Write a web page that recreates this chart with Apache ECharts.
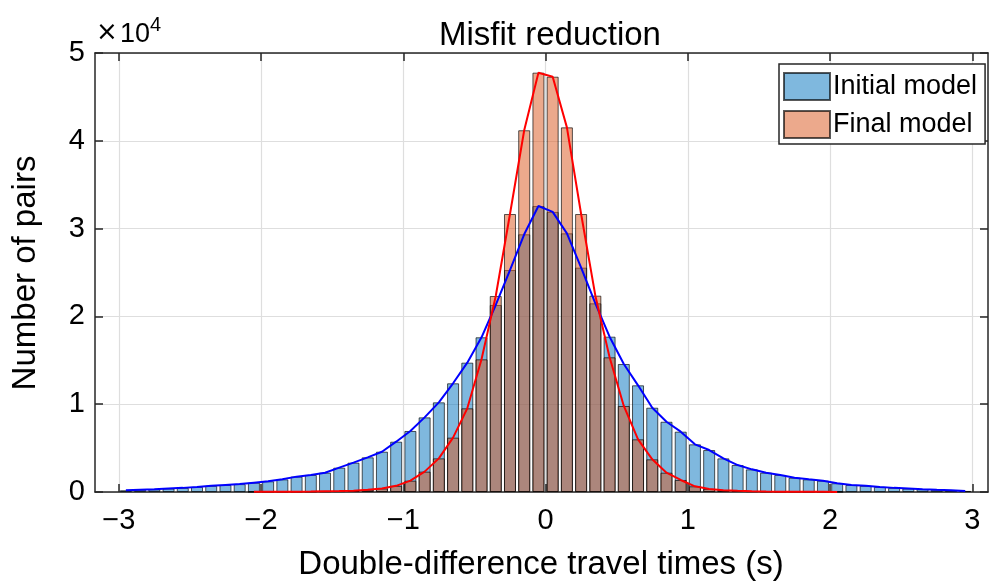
<!DOCTYPE html>
<html>
<head>
<meta charset="utf-8">
<script src="https://cdn.jsdelivr.net/npm/echarts@6/dist/echarts.min.js"></script>
<style>
  html, body { margin: 0; padding: 0; background: #fff; }
  .main { width: 989px; height: 582px; }
</style>
</head>
<body>
<div class="main"></div>
<script>
// bin centres (s), bin width 0.1
let binCenters = [
    -2.95, -2.85, -2.75, -2.65, -2.55, -2.45, -2.35, -2.25, -2.15, -2.05,
    -1.95, -1.85, -1.75, -1.65, -1.55, -1.45, -1.35, -1.25, -1.15, -1.05,
    -0.95, -0.85, -0.75, -0.65, -0.55, -0.45, -0.35, -0.25, -0.15, -0.05,
    0.05, 0.15, 0.25, 0.35, 0.45, 0.55, 0.65, 0.75, 0.85, 0.95,
    1.05, 1.15, 1.25, 1.35, 1.45, 1.55, 1.65, 1.75, 1.85, 1.95,
    2.05, 2.15, 2.25, 2.35, 2.45, 2.55, 2.65, 2.75, 2.85, 2.95
];

let initialCounts = [
    200, 250, 300, 400, 470, 580, 700, 800, 900, 1060,
    1220, 1440, 1750, 1940, 2200, 2770, 3340, 3950, 4590, 5730,
    6950, 8500, 10210, 12380, 14730, 17620, 21300, 25280, 29350, 32570,
    31900, 29460, 25550, 21490, 17690, 14580, 12150, 9600, 8000, 6870,
    5430, 4780, 3830, 3070, 2580, 2200, 1940, 1630, 1440, 1290,
    1000, 800, 700, 580, 470, 400, 320, 250, 200, 120
];

let finalCounts = [
    null, null, null, null, null, null, null, null, null, 20,
    20, 30, 40, 50, 80, 100, 150, 250, 400, 700,
    1290, 2320, 3830, 6190, 9530, 15110, 22320, 31660, 41200, 47760,
    47300, 41530, 31660, 22360, 15340, 9800, 6000, 3720, 2200, 1370,
    650, 350, 200, 130, 90, 60, 40, 30, 20, 20,
    10, null, null, null, null, null, null, null, null, null
];

let xTicks = [-3, -2, -1, 0, 1, 2, 3];

let font = 'Liberation Sans';
let axisColor = '#262626';

let pairs = function(values) {
    return binCenters.map(function(c, i) {
        return [c, values[i]];
    });
};

let main = document.querySelector('.main');
let myChart = echarts.init(main, null, { renderer: 'canvas' });

let xCommon = {
    type: 'value',
    min: -3.167,
    max: 3.11,
    axisLine: { show: true, onZero: false, lineStyle: { color: axisColor, width: 1.5 } },
    axisTick: { show: true, inside: true, length: 8, customValues: xTicks, lineStyle: { color: axisColor, width: 1.5 } }
};

let yCommon = {
    type: 'value',
    min: 0,
    max: 50000,
    interval: 10000,
    axisLine: { show: true, onZero: false, lineStyle: { color: axisColor, width: 1.5 } },
    axisTick: { show: true, inside: true, length: 8, lineStyle: { color: axisColor, width: 1.5 } }
};

let options = {
    animation: false,
    backgroundColor: '#ffffff',
    textStyle: { fontFamily: font },
    title: {
        text: 'Misfit reduction',
        left: 545,
        top: 14,
        textAlign: 'center',
        textStyle: { fontFamily: font, fontSize: 33, fontWeight: 'normal', color: '#000' }
    },
    grid: { left: 95, right: 1, top: 53, bottom: 90 },
    legend: {
        orient: 'vertical',
        left: 779,
        top: 64,
        icon: 'rect',
        itemWidth: 46,
        itemHeight: 27,
        itemGap: 9,
        padding: [8, 8, 5, 4],
        borderColor: axisColor,
        borderWidth: 1.5,
        backgroundColor: '#fff',
        data: ['Initial model', 'Final model'],
        textStyle: { fontFamily: font, fontSize: 27, color: '#000', padding: [0, 0, 0, -2] }
    },
    xAxis: [
        Object.assign({}, xCommon, {
            position: 'bottom',
            axisLabel: {
                customValues: xTicks,
                margin: 14,
                fontFamily: font,
                fontSize: 29,
                color: '#000',
                formatter: function(v) { return String(v).replace('-', '\u2212'); }
            },
            splitLine: { show: true, lineStyle: { color: '#dedede', width: 1.2 } }
        }),
        Object.assign({}, xCommon, {
            position: 'top',
            axisLabel: { show: false },
            splitLine: { show: false }
        })
    ],
    yAxis: [
        Object.assign({}, yCommon, {
            position: 'left',
            axisLabel: {
                margin: 10,
                fontFamily: font,
                fontSize: 29,
                color: '#000',
                formatter: function(v) { return v / 10000; }
            },
            splitLine: { show: true, lineStyle: { color: '#dedede', width: 1.2 } }
        }),
        Object.assign({}, yCommon, {
            position: 'right',
            axisLabel: { show: false },
            splitLine: { show: false }
        })
    ],
    graphic: [
        {
            type: 'text',
            x: 96,
            y: 46,
            style: {
                text: '\u00d7',
                fontFamily: 'DejaVu Sans',
                fontSize: 26,
                fill: '#000',
                textAlign: 'left',
                textVerticalAlign: 'bottom'
            }
        },
        {
            type: 'text',
            x: 120,
            y: 48,
            style: {
                text: '10',
                fontFamily: font,
                fontSize: 27,
                fill: '#000',
                textAlign: 'left',
                textVerticalAlign: 'bottom'
            }
        },
        {
            type: 'text',
            x: 150,
            y: 35,
            style: {
                text: '4',
                fontFamily: font,
                fontSize: 20,
                fill: '#000',
                textAlign: 'left',
                textVerticalAlign: 'bottom'
            }
        },
        {
            type: 'text',
            x: 26,
            y: 273,
            rotation: Math.PI / 2,
            style: {
                text: 'Number of pairs',
                fontFamily: font,
                fontSize: 33,
                fill: '#000',
                textAlign: 'center',
                textVerticalAlign: 'middle'
            }
        },
        {
            type: 'text',
            x: 541,
            y: 565,
            style: {
                text: 'Double-difference travel times (s)',
                fontFamily: font,
                fontSize: 33,
                fill: '#000',
                textAlign: 'center',
                textVerticalAlign: 'middle'
            }
        }
    ],
    series: [
        {
            name: 'Initial model',
            type: 'bar',
            barWidth: 12,
            barGap: '-100%',
            itemStyle: { color: 'rgba(0,114,189,0.5)', borderColor: 'rgba(0,0,0,0.65)', borderWidth: 1 },
            data: pairs(initialCounts)
        },
        {
            name: 'Final model',
            type: 'bar',
            barWidth: 12,
            barGap: '-100%',
            itemStyle: { color: 'rgba(217,83,25,0.5)', borderColor: 'rgba(0,0,0,0.65)', borderWidth: 1 },
            data: pairs(finalCounts)
        },
        {
            name: 'Initial curve',
            type: 'line',
            showSymbol: false,
            z: 5,
            lineStyle: { color: '#0000ff', width: 2 },
            itemStyle: { color: '#0000ff' },
            data: pairs(initialCounts)
        },
        {
            name: 'Final curve',
            type: 'line',
            showSymbol: false,
            z: 5,
            lineStyle: { color: '#ff0000', width: 2 },
            itemStyle: { color: '#ff0000' },
            data: pairs(finalCounts)
        }
    ]
};

myChart.setOption(options);
</script>
</body>
</html>
